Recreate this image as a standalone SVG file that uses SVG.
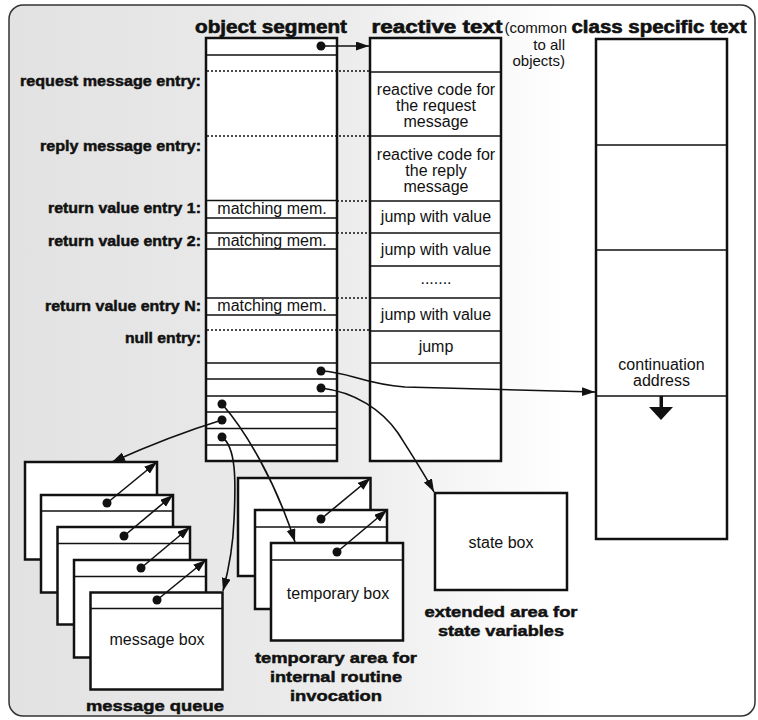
<svg xmlns="http://www.w3.org/2000/svg" width="758" height="720" viewBox="0 0 758 720">
<defs>
<linearGradient id="bg" x1="0" y1="0" x2="1" y2="0">
<stop offset="0" stop-color="#e2e2e2"/>
<stop offset="0.45" stop-color="#ececec"/>
<stop offset="0.75" stop-color="#ffffff"/>
</linearGradient>
<marker id="ah" markerUnits="userSpaceOnUse" markerWidth="14" markerHeight="10" refX="13" refY="4.5" orient="auto">
<path d="M0,0 L13,4.5 L0,9 z" fill="#111"/>
</marker>
<style>
.box{fill:#fff;stroke:#111;stroke-width:2.5}
.ln{stroke:#111;stroke-width:1.6;fill:none}
.dt{stroke:#111;stroke-width:1.4;stroke-dasharray:2 2;fill:none}
.cn{stroke:#111;stroke-width:1.6;fill:none}
.dot{fill:#111}
.lb{font-family:"Liberation Sans",Arial,sans-serif;font-weight:bold;font-size:15.5px;fill:#111;stroke:#111;stroke-width:0.5}
.tt{font-family:"Liberation Sans",Arial,sans-serif;font-weight:bold;font-size:17.5px;fill:#111;stroke:#111;stroke-width:0.6}
.tx{font-family:"Liberation Sans",Arial,sans-serif;font-size:16px;fill:#111;text-anchor:middle}
.sm{font-family:"Liberation Sans",Arial,sans-serif;font-size:15px;fill:#111;text-anchor:end}
.e{text-anchor:end}
.m{text-anchor:middle}
</style>
</defs>
<rect x="9" y="5" width="746" height="711" rx="14" fill="url(#bg)" stroke="#333" stroke-width="1.5"/>

<!-- titles -->
<g id="titles">
<text class="tt m" x="271" y="33" textLength="152" lengthAdjust="spacingAndGlyphs">object segment</text>
<text class="tt m" x="437" y="33" textLength="131" lengthAdjust="spacingAndGlyphs">reactive text</text>
<text class="sm" x="567" y="33">(common</text>
<text class="sm" x="565" y="50">to all</text>
<text class="sm" x="565" y="66">objects)</text>
<text class="tt m" x="659" y="33" textLength="175" lengthAdjust="spacingAndGlyphs">class specific text</text>
</g>

<!-- left labels -->
<g id="labels">
<text class="lb e" x="201" y="86" textLength="181" lengthAdjust="spacingAndGlyphs">request message entry:</text>
<text class="lb e" x="201" y="151" textLength="161" lengthAdjust="spacingAndGlyphs">reply message entry:</text>
<text class="lb e" x="201" y="213" textLength="153" lengthAdjust="spacingAndGlyphs">return value entry 1:</text>
<text class="lb e" x="201" y="246" textLength="153" lengthAdjust="spacingAndGlyphs">return value entry 2:</text>
<text class="lb e" x="201" y="311" textLength="156" lengthAdjust="spacingAndGlyphs">return value entry N:</text>
<text class="lb e" x="201" y="343" textLength="76" lengthAdjust="spacingAndGlyphs">null entry:</text>
</g>

<!-- object segment -->
<g id="object-segment">
<rect class="box" x="206" y="38" width="131" height="423"/>
<path class="ln" d="M206,55H337 M206,200.5H337 M206,218H337 M206,233H337 M206,249H337 M206,298H337 M206,315H337 M206,363H337 M206,379H337 M206,396H337 M206,412H337 M206,428.5H337 M206,445H337"/>
<path class="dt" d="M207,71H370 M207,136H370 M337,201H370 M337,233H370 M337,298H370 M207,330H370"/>
<text class="tx" x="272" y="214">matching mem.</text>
<text class="tx" x="272" y="246">matching mem.</text>
<text class="tx" x="272" y="311">matching mem.</text>
</g>

<!-- reactive text -->
<g id="reactive-text">
<rect class="box" x="370" y="38" width="131" height="423"/>
<path class="ln" d="M370,72H501 M370,136H501 M370,201H501 M370,233H501 M370,266H501 M370,298H501 M370,331H501 M370,363H501"/>
<text class="tx" x="436" y="95">reactive code for</text>
<text class="tx" x="436" y="111">the request</text>
<text class="tx" x="436" y="127">message</text>
<text class="tx" x="436" y="160">reactive code for</text>
<text class="tx" x="436" y="176">the reply</text>
<text class="tx" x="436" y="192">message</text>
<text class="tx" x="436" y="222">jump with value</text>
<text class="tx" x="436" y="255">jump with value</text>
<text class="tx" x="436" y="284">.......</text>
<text class="tx" x="436" y="320">jump with value</text>
<text class="tx" x="436" y="352">jump</text>
</g>

<!-- class specific text -->
<g id="class-specific-text">
<rect class="box" x="596" y="39" width="131" height="500"/>
<path class="ln" d="M596,145H727 M596,250H727 M596,396H727"/>
<text class="tx" x="661.5" y="370">continuation</text>
<text class="tx" x="661.5" y="386">address</text>
<rect x="659.5" y="396" width="3.5" height="12" fill="#111"/>
<path d="M649,407 L673,407 L661,420 z" fill="#111"/>
</g>

<!-- state box -->
<g id="state-box">
<rect class="box" x="435" y="493" width="132" height="97"/>
<text class="tx" x="501" y="548">state box</text>
<text class="lb m" x="501" y="617" textLength="153" lengthAdjust="spacingAndGlyphs">extended area for</text>
<text class="lb m" x="501" y="636" textLength="126" lengthAdjust="spacingAndGlyphs">state variables</text>
</g>

<!-- temporary boxes -->
<g id="temporary-boxes">
<rect class="box" x="238" y="478" width="132.5" height="98"/>
<rect class="box" x="255" y="510" width="132" height="99"/>
<line class="ln" x1="255" y1="527" x2="387" y2="527"/>
<rect class="box" x="271" y="543" width="132" height="97.5"/>
<line class="ln" x1="271" y1="560" x2="403" y2="560"/>
<text class="tx" x="338" y="599">temporary box</text>
<text class="lb m" x="336" y="663" textLength="162" lengthAdjust="spacingAndGlyphs">temporary area for</text>
<text class="lb m" x="336" y="682" textLength="132" lengthAdjust="spacingAndGlyphs">internal routine</text>
<text class="lb m" x="336" y="701" textLength="92" lengthAdjust="spacingAndGlyphs">invocation</text>
</g>

<!-- message queue -->
<g id="message-queue">
<rect class="box" x="25" y="462" width="132" height="97.5"/>
<rect class="box" x="41" y="495" width="132" height="97.5"/>
<line class="ln" x1="41" y1="511" x2="173" y2="511"/>
<rect class="box" x="57.5" y="527" width="132.5" height="97.5"/>
<line class="ln" x1="57.5" y1="543.5" x2="190" y2="543.5"/>
<rect class="box" x="74" y="560" width="132" height="97.5"/>
<line class="ln" x1="74" y1="576.5" x2="206" y2="576.5"/>
<rect class="box" x="90.5" y="592.5" width="132" height="97"/>
<line class="ln" x1="90.5" y1="608.5" x2="222.5" y2="608.5"/>
<text class="tx" x="157" y="645">message box</text>
<text class="lb m" x="155" y="711" textLength="138" lengthAdjust="spacingAndGlyphs">message queue</text>
</g>

<!-- connectors -->
<g id="connectors">
<path class="cn" d="M321,46 L369,46" marker-end="url(#ah)"/>
<path class="cn" d="M321,371 C350,372 362,384 405,387 L595,392" marker-end="url(#ah)"/>
<path class="cn" d="M321,388 C355,392 382,410 398,433 C412,455 425,475 434,492" marker-end="url(#ah)"/>
<path class="cn" d="M222,404 C245,430 275,480 295,542" marker-end="url(#ah)"/>
<path class="cn" d="M222,420 Q170,436 112,462" marker-end="url(#ah)"/>
<path class="cn" d="M222,437 C236,447 236,480 234,520 C233,550 228,572 223,591" marker-end="url(#ah)"/>
<path class="cn" d="M107,503 L157,462" marker-end="url(#ah)"/>
<path class="cn" d="M124,536 L173,495" marker-end="url(#ah)"/>
<path class="cn" d="M141,568 L190,527" marker-end="url(#ah)"/>
<path class="cn" d="M157,600 L206,560" marker-end="url(#ah)"/>
<path class="cn" d="M321,519 L370.5,478" marker-end="url(#ah)"/>
<path class="cn" d="M337,552 L387,510" marker-end="url(#ah)"/>
<g class="dot">
<circle cx="321" cy="46" r="4.5"/>
<circle cx="321" cy="371" r="4.5"/>
<circle cx="321" cy="388" r="4.5"/>
<circle cx="222" cy="404" r="4.5"/>
<circle cx="222" cy="420" r="4.5"/>
<circle cx="222" cy="437" r="4.5"/>
<circle cx="107" cy="503" r="4.5"/>
<circle cx="124" cy="536" r="4.5"/>
<circle cx="141" cy="568" r="4.5"/>
<circle cx="157" cy="600" r="4.5"/>
<circle cx="321" cy="519" r="4.5"/>
<circle cx="337" cy="552" r="4.5"/>
</g>
</g>
</svg>
